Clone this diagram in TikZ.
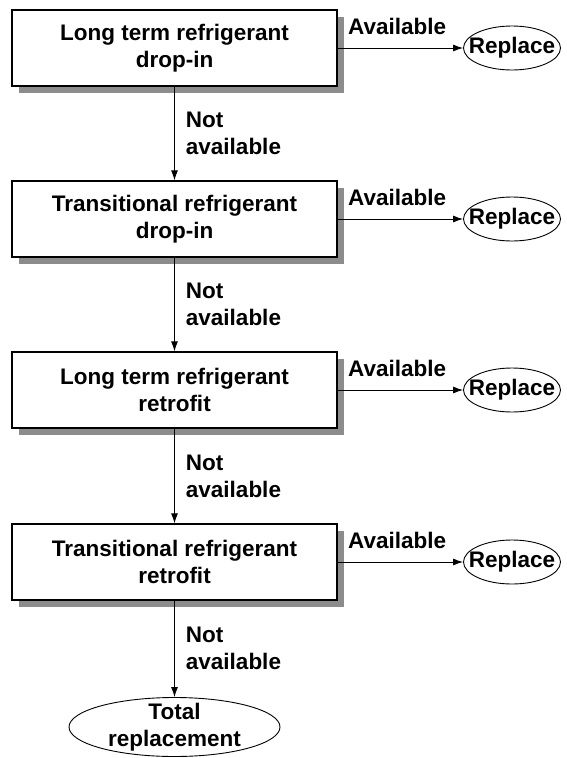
\documentclass[tikz,border=0pt]{standalone}
\usepackage{fontspec}
\setmainfont{Liberation Sans}
\usepackage{tikz}
\usetikzlibrary{shapes,arrows,positioning,calc,arrows.meta,shadows}

\begin{document}
\begin{tikzpicture}[x=1pt, y=-1pt,
    box/.style={draw, line width=1.3pt, fill=white, minimum width=325pt, minimum height=76pt, align=center,
        font=\bfseries\fontsize{22.5}{27}\selectfont,
        drop shadow={shadow xshift=7pt, shadow yshift=-7pt, fill=black!45, opacity=1}},
    oval/.style={draw, ellipse, line width=0.9pt, inner xsep=-20pt, inner ysep=-8pt, align=center,
        font=\bfseries\fontsize{22.5}{27}\selectfont},
    lbl/.style={inner sep=0pt, align=left, font=\bfseries\fontsize{22.5}{27}\selectfont},
    arr/.style={-{Latex[length=10pt,width=7pt]}, line width=0.9pt}
]
\useasboundingbox (0,0) rectangle (567,758);

% Options
\node[box] (b1) at (174.5,48) {Long term refrigerant\\drop-in};
\node[box] (b2) at (174.5,219) {Transitional refrigerant\\drop-in};
\node[box] (b3) at (174.5,390) {Long term refrigerant\\retrofit};
\node[box] (b4) at (174.5,562) {Transitional refrigerant\\retrofit};

% Replace
\node[oval, minimum width=97pt, minimum height=44pt] (r1) at (512,48) {Replace};
\node[oval, minimum width=97pt, minimum height=44pt] (r2) at (512,219) {Replace};
\node[oval, minimum width=97pt, minimum height=44pt] (r3) at (512,390) {Replace};
\node[oval, minimum width=97pt, minimum height=44pt] (r4) at (512,562) {Replace};

% Fin
\node[oval, minimum width=211pt, minimum height=59pt] (tot) at (174.5,727) {Total\\replacement};

\draw[arr] (b1) -- (r1) node[lbl, pos=0, anchor=base west, xshift=10pt, yshift=14pt] {Available};
\draw[arr] (b2) -- (r2) node[lbl, pos=0, anchor=base west, xshift=10pt, yshift=14pt] {Available};
\draw[arr] (b3) -- (r3) node[lbl, pos=0, anchor=base west, xshift=10pt, yshift=14pt] {Available};
\draw[arr] (b4) -- (r4) node[lbl, pos=0, anchor=base west, xshift=10pt, yshift=14pt] {Available};

\draw[arr] (b1) -- (b2) node[lbl, midway, anchor=west, xshift=11pt] {Not\\available};
\draw[arr] (b2) -- (b3) node[lbl, midway, anchor=west, xshift=11pt] {Not\\available};
\draw[arr] (b3) -- (b4) node[lbl, midway, anchor=west, xshift=11pt] {Not\\available};
\draw[arr] (b4) -- (tot) node[lbl, midway, anchor=west, xshift=11pt] {Not\\available};
\end{tikzpicture}
\end{document}
